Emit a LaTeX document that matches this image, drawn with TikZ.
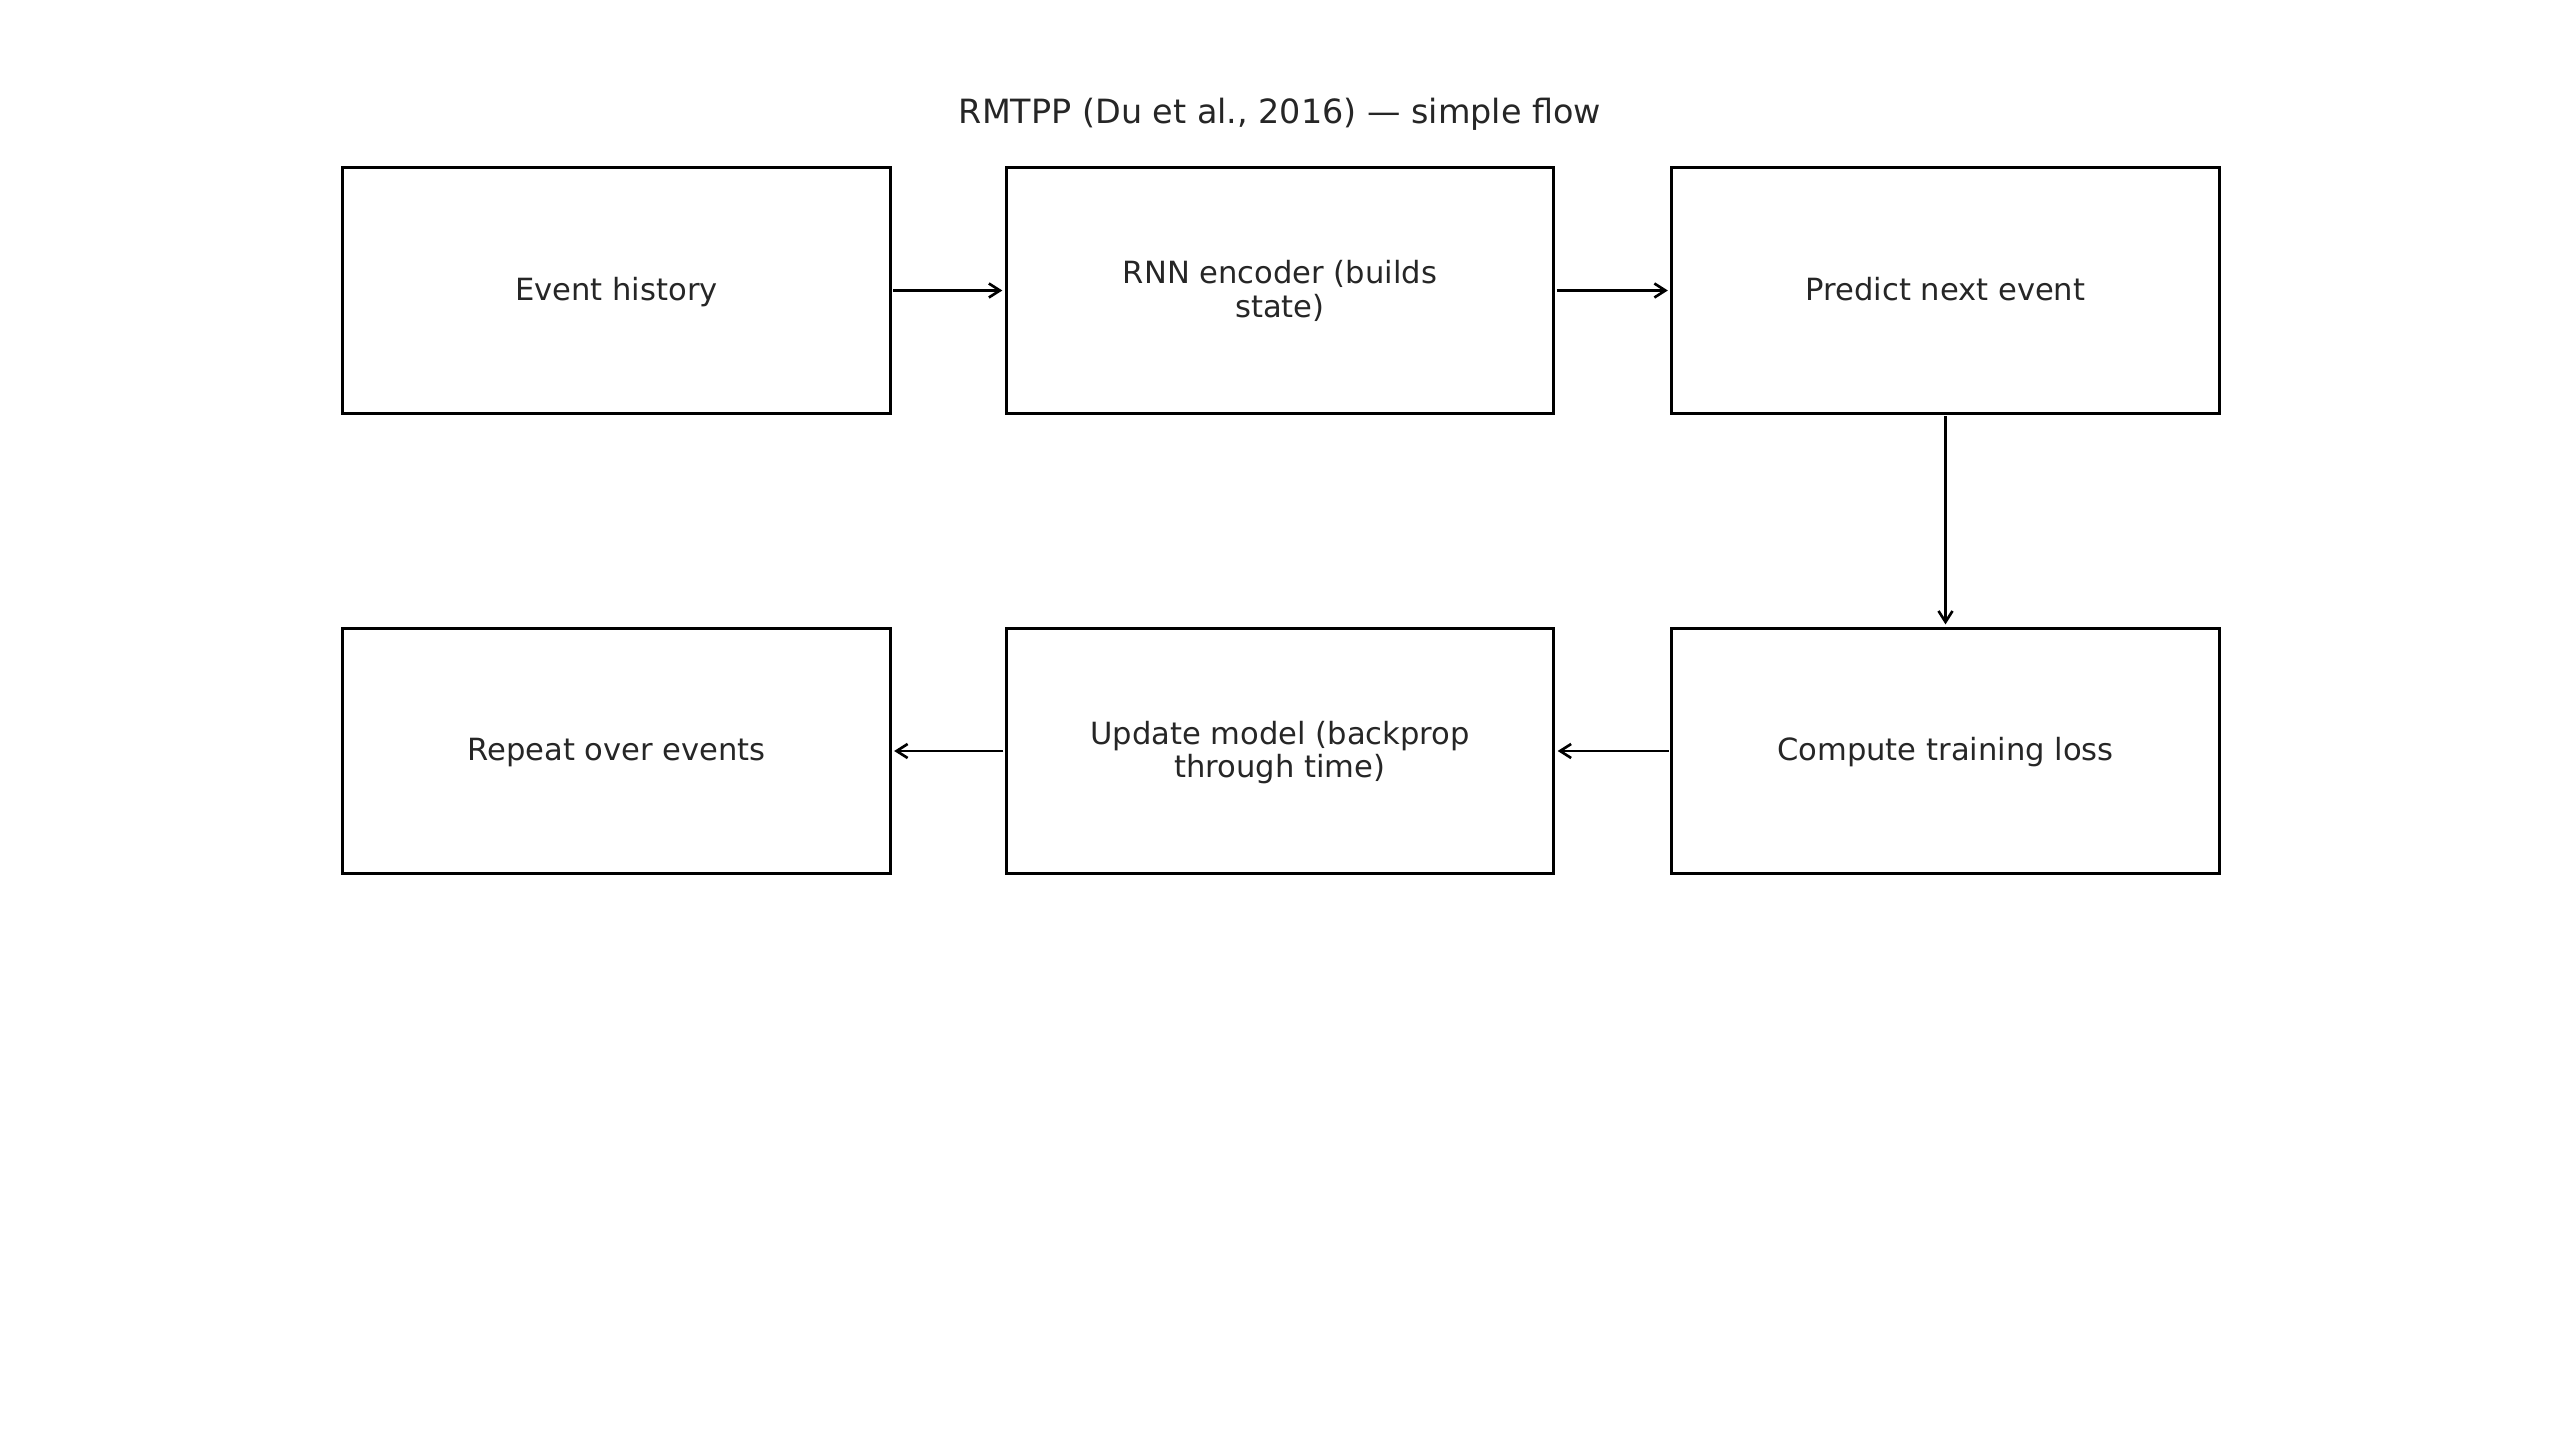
\documentclass[tikz,border=0pt]{standalone}
\usepackage{fontspec}
\setmainfont{DejaVu Sans}
\usetikzlibrary{arrows.meta}
\definecolor{txt}{RGB}{38,38,38}
\newcommand\lpstrut{\rule[-0.2em]{0pt}{1.056em}}
\begin{document}
\begin{tikzpicture}[x=0.01cm,y=-0.01cm,
  stepbox/.style={draw=black,line width=0.85pt,minimum width=5.47cm,minimum height=2.45cm,
    text=txt,align=center,font=\fontsize{8.7pt}{9.6pt}\selectfont,inner sep=0pt,outer sep=0pt},
  arr/.style={draw=black,line width=0.75pt,-{Straight Barb[length=0.11cm,width=0.14cm,line width=0.75pt]},
    shorten <=0.03cm,shorten >=0.04cm}]
\useasboundingbox (0,0) rectangle (2560,1440);
\node[text=txt,font=\fontsize{9.5pt}{11pt}\selectfont,inner sep=0pt] (title) at (1280,112.5) {\lpstrut RMTPP (Du et al., 2016) — simple flow};
\node[stepbox] (b1) at (616.5,290.5) {\lpstrut Event history};
\node[stepbox] (b2) at (1280,290.5) {\lpstrut RNN encoder (builds\\\lpstrut state)};
\node[stepbox] (b3) at (1945.5,290.5) {\lpstrut Predict next event};
\node[stepbox] (b4) at (1945.5,751) {\lpstrut Compute training loss};
\node[stepbox] (b5) at (1280,751) {\lpstrut Update model (backprop\\\lpstrut through time)};
\node[stepbox] (b6) at (616.5,751) {\lpstrut Repeat over events};
\draw[arr] (b1) -- (b2);
\draw[arr] (b2) -- (b3);
\draw[arr] (b3) -- (b4);
\draw[arr] (b4) -- (b5);
\draw[arr] (b5) -- (b6);
\end{tikzpicture}
\end{document}
